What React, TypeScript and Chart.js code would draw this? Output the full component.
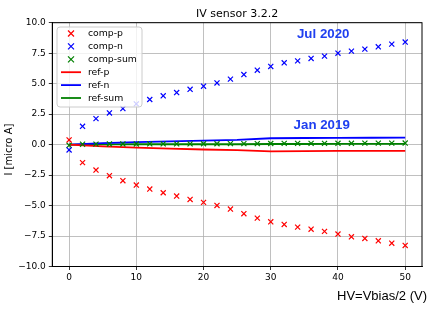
import React, { useEffect, useRef } from "react";
import { Chart, registerables } from "chart.js";

Chart.register(...registerables);

const voltages = [0, 2, 4, 6, 8, 10, 12, 14, 16, 18, 20, 22, 24, 26, 28, 30, 32, 34, 36, 38, 40, 42, 44, 46, 48, 50];
const compP = [0.38, -1.48, -2.09, -2.55, -2.96, -3.32, -3.65, -3.95, -4.22, -4.5, -4.74, -4.99, -5.29, -5.67, -6.03, -6.33, -6.55, -6.77, -6.94, -7.12, -7.34, -7.56, -7.7, -7.89, -8.09, -8.27];
const compN = [-0.44, 1.5, 2.13, 2.6, 2.96, 3.34, 3.7, 4.0, 4.27, 4.54, 4.79, 5.06, 5.37, 5.75, 6.1, 6.41, 6.71, 6.87, 7.07, 7.26, 7.5, 7.67, 7.83, 8.02, 8.24, 8.41];
const compSum = [-0.06, 0.03, 0.04, 0.05, 0.05, 0.05, 0.06, 0.06, 0.06, 0.06, 0.07, 0.07, 0.08, 0.08, 0.08, 0.09, 0.1, 0.1, 0.1, 0.1, 0.11, 0.11, 0.12, 0.12, 0.12, 0.13];

const refVoltages = [0, 5, 10, 15, 20, 25, 30, 35, 40, 45, 50];
const refP = [0, -0.15, -0.25, -0.33, -0.4, -0.45, -0.55, -0.53, -0.52, -0.52, -0.52];
const refN = [0, 0.12, 0.2, 0.27, 0.33, 0.38, 0.52, 0.54, 0.55, 0.56, 0.57];
const refSum = [0, 0.02, 0.03, 0.03, 0.03, 0.03, 0.05, 0.05, 0.06, 0.06, 0.06];

const yTicks = [-10, -7.5, -5, -2.5, 0, 2.5, 5, 7.5, 10];
const xTicks = [0, 10, 20, 30, 40, 50];

const titleText = "IV sensor 3.2.2";
const xLabel = "HV=Vbias/2 (V)";
const yLabel = "I [micro A]";
const notes = ["Jul 2020", "Jan 2019"];
const legendNames = ["comp-p", "comp-n", "comp-sum", "ref-p", "ref-n", "ref-sum"];

const RED = "#ff0000";
const BLUE = "#0000ff";
const GREEN = "#008000";
const NOTE = "#1f3ff0";

const pts = (xs: number[], ys: number[]) => xs.map((x, i) => ({ x, y: ys[i] }));

export default function App() {
  const ref = useRef<HTMLCanvasElement | null>(null);

  useEffect(() => {
    if (!ref.current) return;
    const deco = {
      id: "deco",
      afterDraw(chart: any) {
        const ctx = chart.ctx;
        const a = chart.chartArea;
        const xs = chart.scales.x;
        const ys = chart.scales.y;
        ctx.save();
        // frame
        ctx.strokeStyle = "#000";
        ctx.lineWidth = 1;
        ctx.strokeRect(a.left, a.top, a.right - a.left, a.bottom - a.top);
        // title
        ctx.fillStyle = "#000";
        ctx.font = "11px 'DejaVu Sans'";
        ctx.textAlign = "center";
        ctx.textBaseline = "alphabetic";
        ctx.fillText(titleText, (a.left + a.right) / 2, 17);
        // x label
        ctx.font = "13px 'Liberation Sans'";
        ctx.textAlign = "right";
        ctx.fillText(xLabel, 427, 299.5);
        // y label
        ctx.save();
        ctx.translate(9.5, (a.top + a.bottom) / 2 + 5);
        ctx.rotate(-Math.PI / 2);
        ctx.font = "10px 'DejaVu Sans'";
        ctx.textAlign = "center";
        ctx.textBaseline = "middle";
        ctx.fillText(yLabel, 0, 0);
        ctx.restore();
        // annotations
        ctx.fillStyle = NOTE;
        ctx.font = "bold 13.3px 'Liberation Sans'";
        ctx.textAlign = "left";
        ctx.textBaseline = "alphabetic";
        ctx.fillText(notes[0], xs.getPixelForValue(33.9), ys.getPixelForValue(8.75));
        ctx.fillText(notes[1], xs.getPixelForValue(33.4), ys.getPixelForValue(1.24));
        // legend
        const bx = 57, by = 27, bw = 85, bh = 80, r = 3;
        ctx.beginPath();
        ctx.moveTo(bx + r, by);
        ctx.lineTo(bx + bw - r, by);
        ctx.quadraticCurveTo(bx + bw, by, bx + bw, by + r);
        ctx.lineTo(bx + bw, by + bh - r);
        ctx.quadraticCurveTo(bx + bw, by + bh, bx + bw - r, by + bh);
        ctx.lineTo(bx + r, by + bh);
        ctx.quadraticCurveTo(bx, by + bh, bx, by + bh - r);
        ctx.lineTo(bx, by + r);
        ctx.quadraticCurveTo(bx, by, bx + r, by);
        ctx.closePath();
        ctx.fillStyle = "rgba(255,255,255,0.8)";
        ctx.fill();
        ctx.strokeStyle = "#cccccc";
        ctx.lineWidth = 1;
        ctx.stroke();
        const cols = [RED, BLUE, GREEN, RED, BLUE, GREEN];
        ctx.font = "9.3px 'DejaVu Sans'";
        ctx.textBaseline = "middle";
        ctx.textAlign = "left";
        legendNames.forEach((name, i) => {
          const cy = 33.5 + i * 12.9;
          ctx.strokeStyle = cols[i];
          if (i < 3) {
            ctx.lineWidth = 1.2;
            const s = 3;
            ctx.beginPath();
            ctx.moveTo(71 - s, cy - s);
            ctx.lineTo(71 + s, cy + s);
            ctx.moveTo(71 - s, cy + s);
            ctx.lineTo(71 + s, cy - s);
            ctx.stroke();
          } else {
            ctx.lineWidth = 1.8;
            ctx.beginPath();
            ctx.moveTo(61, cy);
            ctx.lineTo(81, cy);
            ctx.stroke();
          }
          ctx.fillStyle = "#000";
          ctx.fillText(name, 88, cy + 0.5);
        });
        ctx.restore();
      },
    };

    const markerDs = (label: string, ys: number[], color: string) => ({
      label,
      data: pts(voltages, ys),
      showLine: false,
      pointStyle: "crossRot",
      pointRadius: 3.6,
      pointBorderWidth: 1.2,
      borderColor: color,
      backgroundColor: color,
    });
    const lineDs = (label: string, ys: number[], color: string) => ({
      label,
      data: pts(refVoltages, ys),
      showLine: true,
      pointRadius: 0,
      borderWidth: 1.8,
      borderColor: color,
      backgroundColor: color,
      tension: 0,
    });

    const chart = new Chart(ref.current, {
      type: "scatter",
      data: {
        datasets: [
          markerDs("comp-p", compP, RED),
          markerDs("comp-n", compN, BLUE),
          markerDs("comp-sum", compSum, GREEN),
          lineDs("ref-p", refP, RED),
          lineDs("ref-n", refN, BLUE),
          lineDs("ref-sum", refSum, GREEN),
        ] as any,
      },
      options: {
        animation: false,
        responsive: false,
        events: [],
        layout: { padding: { top: 22.7, right: 14, left: 0, bottom: 0 } },
        plugins: {
          legend: { display: false },
          tooltip: { enabled: false },
          title: { display: false },
        },
        scales: {
          x: {
            type: "linear",
            min: -2.5,
            max: 52.5,
            afterFit: (s: any) => {
              s.height = 43.5;
            },
            afterBuildTicks: (s: any) => {
              s.ticks = xTicks.map((v) => ({ value: v }));
            },
            ticks: {
              color: "#000",
              font: { family: "'DejaVu Sans'", size: 9 },
              padding: 2,
              maxRotation: 0,
              autoSkip: false,
              callback: (v: any) => String(v),
            },
            grid: { color: "#b0b0b0", lineWidth: 0.8, tickColor: "#000", tickLength: 3.5 },
            border: { display: true, color: "#000", width: 1 },
          },
          y: {
            type: "linear",
            min: -10,
            max: 10,
            afterFit: (s: any) => {
              s.width = 52.3;
            },
            afterBuildTicks: (s: any) => {
              s.ticks = yTicks.map((v) => ({ value: v }));
            },
            ticks: {
              color: "#000",
              font: { family: "'DejaVu Sans'", size: 9 },
              padding: 3,
              autoSkip: false,
              callback: (v: any) => Number(v).toFixed(1).replace("-", "\u2212"),
            },
            grid: { color: "#b0b0b0", lineWidth: 0.8, tickColor: "#000", tickLength: 3.5 },
            border: { display: true, color: "#000", width: 1 },
          },
        },
      },
      plugins: [deco],
    } as any);
    return () => chart.destroy();
  }, []);

  return (
    <div style={{ position: "fixed", left: 0, top: 0, width: 436, height: 310, background: "#fff" }}>
      <canvas ref={ref} width={436} height={310} style={{ width: 436, height: 310, display: "block" }} />
    </div>
  );
}
